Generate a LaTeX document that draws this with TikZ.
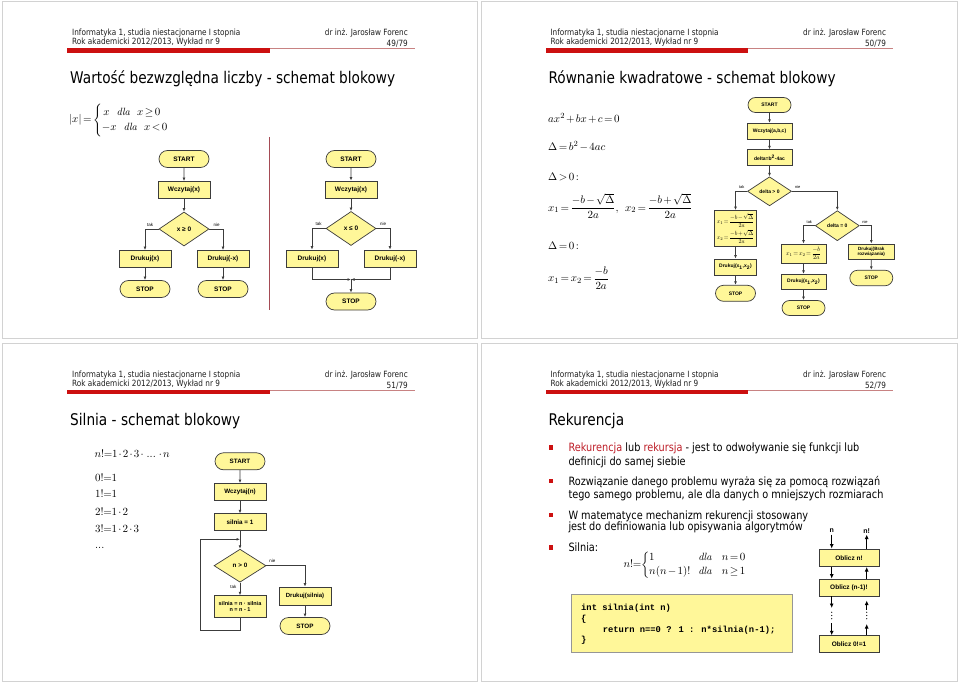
\documentclass[tikz,border=0pt]{standalone}
\usepackage{fontspec}
\usepackage{amsmath}
\usepackage{graphicx}
\usetikzlibrary{shapes.geometric,shapes.misc,arrows.meta}
\newfontfamily\tah[FakeStretch=0.85]{DejaVu Sans}
\newfontfamily\arb{Liberation Sans}
\newfontfamily\cour{Liberation Mono}
\definecolor{boxy}{RGB}{255,247,153}
\definecolor{lineg}{RGB}{60,60,60}
\definecolor{redbar}{RGB}{204,16,16}
\definecolor{thinred}{RGB}{200,130,130}
\definecolor{divred}{RGB}{165,75,85}
\definecolor{txtred}{RGB}{190,30,40}
\definecolor{frameg}{RGB}{210,210,210}
\definecolor{txtg}{RGB}{30,30,30}
\definecolor{codeb}{RGB}{150,150,150}
\tikzset{
 hd/.style={font=\tah\fontsize{8.6}{10}\selectfont, inner sep=0pt, text=txtg},
 ttl/.style={font=\tah\fontsize{16.1}{19}\selectfont, inner sep=0pt},
 bul/.style={font=\tah\fontsize{11.45}{13}\selectfont, inner sep=0pt},
 fml/.style={inner sep=0pt, font=\fontsize{10.5}{12.5}\selectfont},
 fc/.style={draw=lineg, fill=boxy, line width=0.7pt, inner sep=1pt, align=center, font=\arb\bfseries\fontsize{6.5}{7.5}\selectfont},
 pbox/.style={fc, rectangle, minimum width=52pt, minimum height=17pt},
 tbox/.style={fc, rounded rectangle, minimum width=52pt, minimum height=17pt},
 dbox/.style={fc, diamond, inner sep=0pt, minimum width=50pt, minimum height=34pt},
 small/.style={font=\arb\bfseries\fontsize{5}{6}\selectfont, minimum width=45pt, minimum height=16pt},
 lbl/.style={font=\arb\fontsize{4.5}{5}\selectfont, inner sep=0pt},
 arr/.style={draw=lineg, line width=0.7pt, -{Latex[length=3.5pt,width=2.8pt]}},
 barr/.style={draw=black, line width=0.9pt, -{Latex[length=4.5pt,width=4pt]}},
 frm/.style={draw=frameg, line width=0.8pt},
}
\newcommand\slidehdr[4]{%
 \begin{scope}[shift={(#1,#2)}]
 \node[hd,anchor=base west] (hA#4) at (72,36) {Informatyka 1, studia niestacjonarne I stopnia};
 \node[hd,anchor=base west] (hB#4) at (72,44.5) {Rok akademicki 2012/2013, Wykład nr 9};
 \node[hd,anchor=base east] (hC#4) at (408,36) {dr inż. Jarosław Forenc};
 \node[hd,anchor=base east] (hD#4) at (408,46.5) {#3};
 \fill[redbar] (67.3,48.3) rectangle (270,52.7);
 \draw[thinred, line width=0.7pt] (270,48.7) -- (415,48.7);
 \end{scope}}
\newcommand\tinymath[2]{\scalebox{#1}{\fontsize{10}{12}\selectfont$#2$}}
\begin{document}
\medmuskip=2mu plus 1mu
\thickmuskip=2.5mu plus 2mu
\begin{tikzpicture}[x=1pt,y=-1pt]
\useasboundingbox (0,0) rectangle (960,684);
\fill[white] (0,0) rectangle (960,684);
% slide frames
\draw[frm] (2,1.5) rectangle (477.5,338);
\draw[frm] (481,1.5) rectangle (957.5,338);
\draw[frm] (2,343) rectangle (477.5,681);
\draw[frm] (481,343) rectangle (957.5,681);
% headers
\slidehdr{0}{0}{49/79}{a}
\slidehdr{478.3}{0}{50/79}{b}
\slidehdr{0}{341.5}{51/79}{c}
\slidehdr{478.3}{341.5}{52/79}{d}

%================ SLIDE 1
\node[ttl,anchor=base west] (t1) at (70,84) {Wartość bezwzględna liczby - schemat blokowy};
\node[fml,anchor=west] (f1) at (69,120) {$|x|=\begin{cases} \;x\ \ \mathit{dla}\ \ x\geq 0\\ -x\ \ \mathit{dla}\ \ x<0\end{cases}$};
\draw[divred, line width=1.5pt] (269.5,137) -- (269.5,310);
% flowchart A
\node[tbox] (aS) at (184,159) {START};
\node[pbox] (aIn) at (184,190) {Wczytaj(x)};
\node[dbox] (aD) at (184,229) {x ≥ 0};
\node[pbox] (aL) at (145,259) {Drukuj(x)};
\node[pbox] (aR) at (223,259) {Drukuj(-x)};
\node[tbox] (aLS) at (145,289) {STOP};
\node[tbox] (aRS) at (223,289) {STOP};
\draw[arr] (aS) -- (aIn);
\draw[arr] (aIn) -- (aD);
\draw[arr] (aD.west) -| (aL.north);
\draw[arr] (aD.east) -| (aR.north);
\draw[arr] (aL) -- (aLS);
\draw[arr] (aR) -- (aRS);
\node[lbl] (aTak) at (150,224.5) {tak};
\node[lbl] (aNie) at (216.5,224.5) {nie};
% flowchart B
\node[tbox] (bS) at (351,159) {START};
\node[pbox] (bIn) at (351,189.5) {Wczytaj(x)};
\node[dbox] (bD) at (351,228.5) {x ≤ 0};
\node[pbox] (bL) at (312,258.5) {Drukuj(x)};
\node[pbox] (bR) at (390,258.5) {Drukuj(-x)};
\node[tbox] (bST) at (351,301.5) {STOP};
\coordinate (bM) at (351,279.5);
\draw[arr] (bS) -- (bIn);
\draw[arr] (bIn) -- (bD);
\draw[arr] (bD.west) -| (bL.north);
\draw[arr] (bD.east) -| (bR.north);
\draw[arr] (bL.south) |- (bM);
\draw[arr] (bR.south) |- (bM);
\draw[arr] (bM) -- (bST);
\node[lbl] (bTak) at (318.7,223.5) {tak};
\node[lbl] (bNie) at (383,223.5) {nie};

%================ SLIDE 2
\node[ttl,anchor=base west] (t2) at (548.3,84) {Równanie kwadratowe - schemat blokowy};
\node[fml,anchor=west,font=\fontsize{11}{13}\selectfont] (g1) at (548,118) {$ax^2+bx+c=0$};
\node[fml,anchor=west,font=\fontsize{11}{13}\selectfont] (g2) at (548,146) {$\Delta=b^2-4ac$};
\node[fml,anchor=west,font=\fontsize{11}{13}\selectfont] (g3) at (548,177) {$\Delta>0:$};
\node[fml,anchor=west,font=\fontsize{11}{13}\selectfont] (g4) at (548,206) {$x_1=\dfrac{-b-\sqrt{\Delta}}{2a},$};
\node[fml,anchor=west,font=\fontsize{11}{13}\selectfont] (g5) at (625,206) {$x_2=\dfrac{-b+\sqrt{\Delta}}{2a}$};
\node[fml,anchor=west,font=\fontsize{11}{13}\selectfont] (g6) at (548,246) {$\Delta=0:$};
\node[fml,anchor=west,font=\fontsize{11}{13}\selectfont] (g7) at (548,278) {$x_1=x_2=\dfrac{-b}{2a}$};
% flowchart
\node[tbox,small,minimum height=15pt] (cS) at (769.5,105) {START};
\node[pbox,small] (cIn) at (769.5,131.3) {Wczytaj(a,b,c)};
\node[pbox,small] (cDl) at (769.5,157.7) {delta=b\textsuperscript{2}-4ac};
\node[dbox,small,minimum width=44pt,minimum height=29pt] (cD1) at (769.5,191.3) {delta > 0};
\node[pbox,small,minimum width=42pt,minimum height=36pt,inner sep=0pt] (cX) at (735.5,228.5) {\tinymath{0.6}{x_1=\dfrac{-b-\sqrt{\Delta}}{2a}}\\[1.5pt]\tinymath{0.6}{x_2=\dfrac{-b+\sqrt{\Delta}}{2a}}};
\node[pbox,small,minimum width=42pt] (cP1) at (735.5,267) {Drukuj(x\textsubscript{1},x\textsubscript{2})};
\node[tbox,small,minimum width=42pt] (cS1) at (735.5,293.3) {STOP};
\node[dbox,small,minimum width=44pt,minimum height=30pt] (cD2) at (837.3,225.7) {delta = 0};
\node[pbox,small,minimum height=19pt,inner sep=0pt] (cX2) at (803.5,253.5) {\tinymath{0.62}{x_1=x_2=\dfrac{-b}{2a}}};
\node[pbox,small,minimum height=15pt] (cP2) at (803.5,281.8) {Drukuj(x\textsubscript{1},x\textsubscript{2})};
\node[tbox,small,minimum height=15pt] (cS2) at (803.5,308) {STOP};
\node[pbox,small,minimum width=46pt,minimum height=15.5pt,inner sep=0pt,font=\arb\bfseries\fontsize{4.6}{5.4}\selectfont] (cB) at (871.3,251.7) {Drukuj(Brak\\rozwiązania)};
\node[tbox,small,minimum height=15.5pt] (cS3) at (871.3,278) {STOP};
\draw[arr] (cS) -- (cIn);
\draw[arr] (cIn) -- (cDl);
\draw[arr] (cDl) -- (cD1);
\draw[arr] (cD1.west) -| (cX.north);
\draw[arr] (cD1.east) -| (cD2.north);
\draw[arr] (cX) -- (cP1);
\draw[arr] (cP1) -- (cS1);
\draw[arr] (cD2.west) -| (cX2.north);
\draw[arr] (cD2.east) -| (cB.north);
\draw[arr] (cX2) -- (cP2);
\draw[arr] (cP2) -- (cS2);
\draw[arr] (cB) -- (cS3);
\node[lbl,font=\arb\fontsize{4}{5}\selectfont] (cT1) at (741.7,187.3) {tak};
\node[lbl,font=\arb\fontsize{4}{5}\selectfont] (cN1) at (797.7,187.3) {nie};
\node[lbl,font=\arb\fontsize{4}{5}\selectfont] (cT2) at (809.3,221.7) {tak};
\node[lbl,font=\arb\fontsize{4}{5}\selectfont] (cN2) at (865,221.7) {nie};

%================ SLIDE 3
\node[ttl,anchor=base west] (t3) at (70,425.5) {Silnia - schemat blokowy};
\node[fml,anchor=west] (n0) at (94.3,453.3) {$n!\!=\!1\cdot 2\cdot 3\cdot\,...\,\cdot n$};
\node[fml,anchor=west] (n1) at (95,477.5) {$0!\!=\!1$};
\node[fml,anchor=west] (n2) at (95,494) {$1!\!=\!1$};
\node[fml,anchor=west] (n3) at (95,511.7) {$2!\!=\!1\cdot 2$};
\node[fml,anchor=west] (n4) at (95,529) {$3!\!=\!1\cdot 2\cdot 3$};
\node[fml,anchor=west] (n5) at (95,547.7) {$...$};
\node[tbox,font=\arb\bfseries\fontsize{6.3}{7.5}\selectfont] (dS) at (240,461.3) {START};
\node[pbox,font=\arb\bfseries\fontsize{6.3}{7.5}\selectfont] (dIn) at (240,492) {Wczytaj(n)};
\node[pbox,font=\arb\bfseries\fontsize{6.3}{7.5}\selectfont] (dInit) at (240,522.3) {silnia = 1};
\coordinate (dJ) at (240,539.3);
\node[dbox,minimum width=52pt,minimum height=33pt,font=\arb\bfseries\fontsize{6.3}{7.5}\selectfont] (dD) at (240,565.7) {n > 0};
\node[pbox,minimum height=22pt,inner sep=0pt,font=\arb\bfseries\fontsize{5.5}{6.4}\selectfont] (dB) at (240,606.7) {silnia = n · silnia\\n = n - 1};
\node[pbox,minimum height=18pt,font=\arb\bfseries\fontsize{6}{7.5}\selectfont] (dOut) at (305,596) {Drukuj(silnia)};
\node[tbox,font=\arb\bfseries\fontsize{6.3}{7.5}\selectfont] (dST) at (305,626) {STOP};
\coordinate (dL) at (200.7,630.3);
\draw[arr] (dS) -- (dIn);
\draw[arr] (dIn) -- (dInit);
\draw[arr] (dInit) -- (dD);
\draw[arr] (dD) -- (dB);
\draw[arr] (dB.south) |- (dL) |- (dJ);
\draw[arr] (dD.east) -| (dOut.north);
\draw[arr] (dOut) -- (dST);
\node[lbl] (dTak) at (233.3,586.7) {tak};
\node[lbl] (dNie) at (272.3,561) {nie};

%================ SLIDE 4
\node[ttl,anchor=base west] (t4) at (548.3,425.5) {Rekurencja};
\fill[redbar] (548.8,445.1) rectangle (553.2,449.5);
\fill[redbar] (548.8,478.8) rectangle (553.2,483.2);
\fill[redbar] (548.8,512.8) rectangle (553.2,517.2);
\fill[redbar] (548.8,545.1) rectangle (553.2,549.5);
\node[bul,anchor=base west] (r1a) at (568.3,451.3) {{\color{txtred}Rekurencja} lub {\color{txtred}rekursja} - jest to odwoływanie się funkcji lub};
\node[bul,anchor=base west] (r1b) at (568.3,465.7) {definicji do samej siebie};
\node[bul,anchor=base west] (r2a) at (568.3,485) {Rozwiązanie danego problemu wyraża się za pomocą rozwiązań};
\node[bul,anchor=base west] (r2b) at (568.3,498.3) {tego samego problemu, ale dla danych o mniejszych rozmiarach};
\node[bul,anchor=base west] (r3a) at (568.3,519) {W matematyce mechanizm rekurencji stosowany};
\node[bul,anchor=base west] (r3b) at (568.3,530.7) {jest do definiowania lub opisywania algorytmów};
\node[bul,anchor=base west] (r4a) at (568.3,551.3) {Silnia:};
\node[fml,anchor=west,font=\fontsize{10.5}{12.5}\selectfont] (sf) at (623.3,564.8) {$n!\!=\!\left\{\begin{array}{@{}l@{\hspace{8pt}}l@{\hspace{10pt}}l@{}}1 & \mathit{dla} & n=0\\[2pt] n(n-1)! & \mathit{dla} & n\geq 1\end{array}\right.$};
% code box
\node[draw=codeb, fill=boxy, line width=0.7pt, minimum width=221.3pt, minimum height=58pt, inner sep=0pt] (code) at (681.7,623.3) {};
\node[anchor=base west, inner sep=0pt, font=\cour\bfseries\fontsize{8.8}{10}\selectfont] (c1) at (581,610) {int silnia(int n)};
\node[anchor=base west, inner sep=0pt, font=\cour\bfseries\fontsize{8.8}{10}\selectfont] (c2) at (581,621) {\{};
\node[anchor=base west, inner sep=0pt, font=\cour\bfseries\fontsize{8.8}{10}\selectfont] (c3) at (602.7,632) {return n==0 ? 1 : n*silnia(n-1);};
\node[anchor=base west, inner sep=0pt, font=\cour\bfseries\fontsize{8.8}{10}\selectfont] (c4) at (581,642.5) {\}};
% recursion diagram
\node[inner sep=0pt, font=\arb\bfseries\fontsize{7}{8}\selectfont] (ln) at (831.7,530.7) {n};
\node[inner sep=0pt, font=\arb\bfseries\fontsize{7}{8}\selectfont] (lf) at (866.7,530.7) {n!};
\node[pbox,minimum width=60pt,minimum height=17.7pt,font=\arb\bfseries\fontsize{6.5}{7.5}\selectfont] (e1) at (849,557.8) {Oblicz n!};
\node[pbox,minimum width=60pt,minimum height=17pt,font=\arb\bfseries\fontsize{6.5}{7.5}\selectfont] (e2) at (849,587.5) {Oblicz (n-1)!};
\node[pbox,minimum width=60pt,minimum height=17pt,font=\arb\bfseries\fontsize{6.5}{7.5}\selectfont] (e3) at (849,644.2) {Oblicz 0!=1};
\coordinate (eLa) at (831.7,608);
\coordinate (eLb) at (831.7,623);
\coordinate (eRa) at (866.7,609.5);
\coordinate (eRb) at (866.7,624);
\draw[barr] (831.7,534.5) -- (ln.south |- e1.north);
\draw[barr] (lf.south |- e1.north) -- (866.7,534.5);
\draw[barr] (ln.south |- e1.south) -- (ln.south |- e2.north);
\draw[barr] (lf.south |- e2.north) -- (lf.south |- e1.south);
\draw[barr] (ln.south |- e2.south) -- (eLa);
\draw[barr] (eRa) -- (866.7,600.5);
\draw[barr] (eLb) -- (ln.south |- e3.north);
\draw[barr] (lf.south |- e3.north) -- (eRb);
\foreach \yy in {612.2,615.5,618.8}{
  \fill (831.7,\yy) circle (0.6);
  \fill (866.7,\yy) circle (0.6);
}
\end{tikzpicture}
\end{document}
